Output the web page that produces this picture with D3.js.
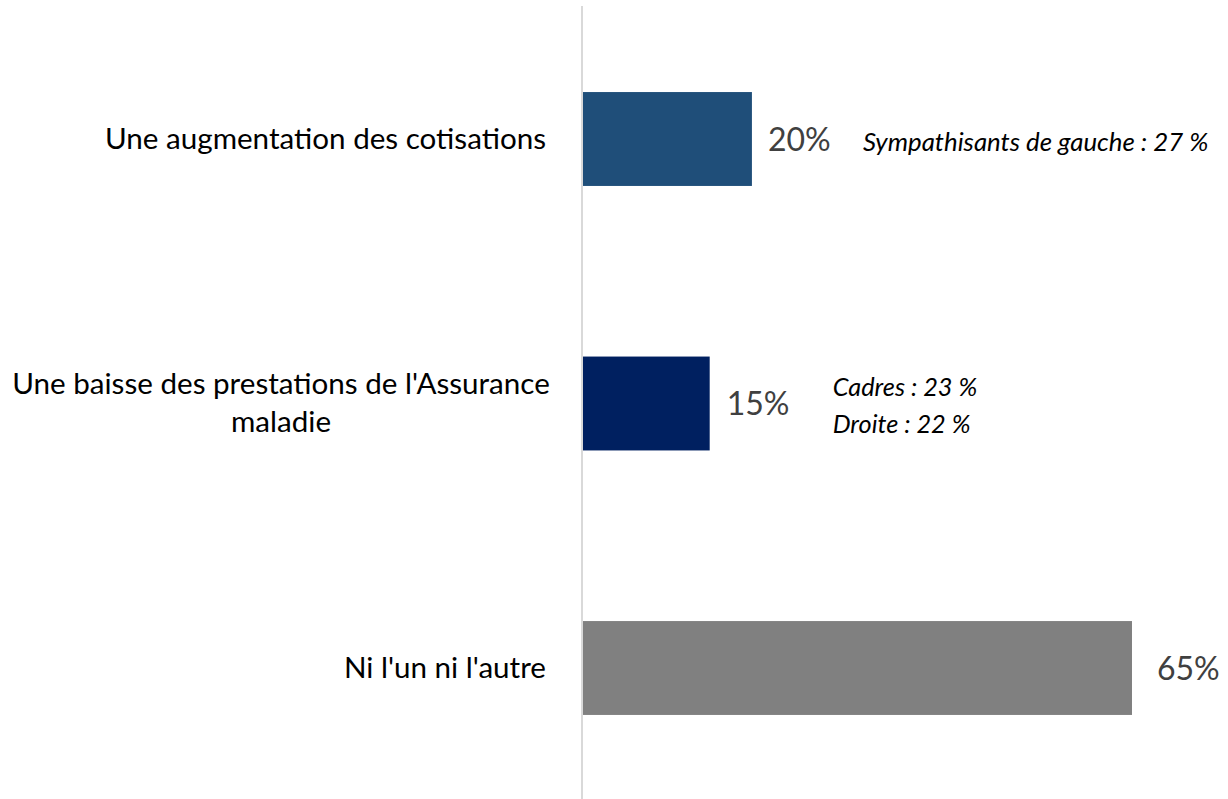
<!DOCTYPE html>
<html>
<head>
<meta charset="utf-8">
<script src="https://cdn.jsdelivr.net/npm/d3@7"></script>
<style>
  body { margin: 0; background: #fff; }
  svg { display: block; font-family: Lato, Carlito, Calibri, sans-serif; }
</style>
</head>
<body>
<div id="chart"></div>
<script>
// données
const categories = [
  'Une augmentation des cotisations',
  "Une baisse des prestations de l'Assurance maladie",
  "Ni l'un ni l'autre"
];
const categoryLines = [
  ['Une augmentation des cotisations'],
  ["Une baisse des prestations de l'Assurance", 'maladie'],
  ["Ni l'un ni l'autre"]
];
const values = [20, 15, 65];
const notes = [
  ['Sympathisants de gauche : 27 %'],
  ['Cadres : 23 %', 'Droite : 22 %'],
  []
];
const barColors = ['#1f4e79', '#002060', '#808080'];
// écart entre fin de barre et étiquette (px)
const labelGaps = [16, 17, 25];

const width = 1228, height = 799;

const svg = d3.select('#chart')
  .append('svg')
  .attr('width', width)
  .attr('height', height);

const x = d3.scaleLinear()
  .domain([0, 100])
  .range([583, 583 + 844.6]);

const y = d3.scaleBand()
  .domain(categories)
  .range([6.75, 800.25])
  .paddingInner(0.645)
  .paddingOuter(0.3225);

// axe vertical
svg.append('line')
  .attr('x1', x(0) - 1).attr('x2', x(0) - 1)
  .attr('y1', 6).attr('y2', height)
  .attr('stroke', '#d9d9d9')
  .attr('stroke-width', 2);

// barres
svg.selectAll('.bar')
  .data(categories)
  .join('rect')
  .attr('class', 'bar')
  .attr('x', x(0))
  .attr('y', d => y(d))
  .attr('width', (d, i) => x(values[i]) - x(0))
  .attr('height', y.bandwidth())
  .attr('fill', (d, i) => barColors[i]);

// étiquettes de valeur
svg.selectAll('.value')
  .data(categories)
  .join('text')
  .attr('class', 'value')
  .attr('x', (d, i) => x(values[i]) + labelGaps[i])
  .attr('y', d => y(d) + y.bandwidth() / 2)
  .attr('dy', '0.36em')
  .attr('fill', '#404040')
  .style('font-size', '32px')
  .text((d, i) => values[i] + '%');

// catégories
svg.selectAll('.cat')
  .data(categories)
  .join('text')
  .attr('class', 'cat')
  .attr('fill', '#000')
  .style('font-size', '29.6px')
  .each(function(d, i) {
    const lines = categoryLines[i];
    const cy = y(d) + y.bandwidth() / 2;
    const t = d3.select(this);
    if (lines.length === 1) {
      t.attr('text-anchor', 'end');
      t.append('tspan').attr('x', 546).attr('y', cy).attr('dy', '0.35em').text(lines[0]);
    } else {
      // lignes centrées entre elles, comme dans Excel
      t.attr('text-anchor', 'middle');
      lines.forEach((l, j) => {
        t.append('tspan')
          .attr('x', 281)
          .attr('y', cy - 1.5 + (j - (lines.length - 1) / 2) * 38)
          .attr('dy', '0.36em')
          .text(l);
      });
    }
  });

// notes
svg.selectAll('.note')
  .data(categories)
  .join('text')
  .attr('class', 'note')
  .attr('fill', '#000')
  .style('font-size', (d, i) => i === 0 ? '25.8px' : '25.3px')
  .style('font-style', 'italic')
  .each(function(d, i) {
    const lines = notes[i];
    const cy = y(d) + y.bandwidth() / 2;
    const lx = i === 0 ? x(values[i]) + 111 : x(values[i]) + 123;
    lines.forEach((l, j) => {
      d3.select(this).append('tspan')
        .attr('x', lx)
        .attr('y', cy + (j - (lines.length - 1) / 2) * 37 + (i === 0 ? 3 : 2))
        .attr('dy', '0.36em')
        .text(l);
    });
  });
</script>
</body>
</html>
